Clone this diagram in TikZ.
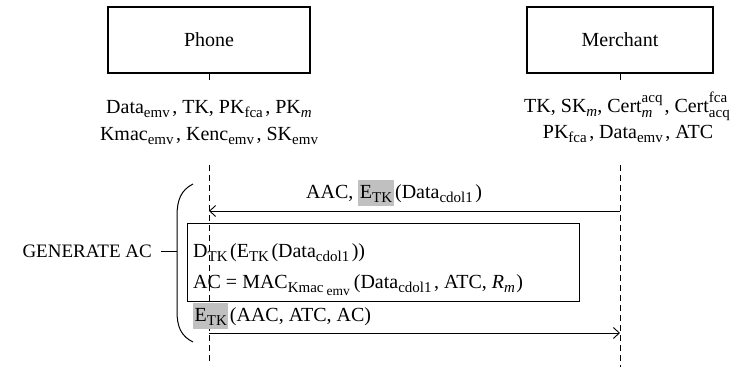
\documentclass[tikz,border=0pt]{standalone}
\usepackage{fontspec}
\setmainfont{Liberation Serif}
\usetikzlibrary{arrows.meta}
\definecolor{hlgray}{RGB}{192,192,192}
% index helpers: lowered index, index followed by a small gap, italic index,
% a superscript/subscript pair, and the gray highlight
\newcommand\idxfont{\fontsize{15}{15}\selectfont}
\newcommand\subx[1]{\raisebox{-4.5pt}{\idxfont #1}}
\newcommand\subk[1]{\subx{#1}\kern2.5pt}
\newcommand\subi[1]{\subx{\itshape #1}}
\newcommand\stk[2]{{\idxfont\setbox0\hbox{#1}\setbox2\hbox{#2}%
  \dimen0=\ifdim\wd0>\wd2 \wd0\else\wd2\fi
  \rlap{\raisebox{10pt}{\box0}}\rlap{\raisebox{-5pt}{\box2}}\kern\dimen0}\kern2pt}
\newcommand\hlbox[1]{{\setlength\fboxsep{1.5pt}\colorbox{hlgray}{\rule[-6.5pt]{0pt}{23pt}#1}}}
\begin{document}
\begin{tikzpicture}[x=1pt,y=-1pt,
  every node/.style={font=\fontsize{20}{24}\selectfont, inner sep=0pt},
  actor/.style={draw, line width=1.1pt, minimum height=66pt},
  lifeline/.style={dash pattern=on 6pt off 4pt, line width=0.9pt},
  msg/.style={line width=0.9pt, -{Straight Barb[length=6pt,width=11pt,line width=0.9pt]}},
  frame/.style={draw, line width=1.1pt},
  link/.style={line width=1pt}]
\useasboundingbox (0,0) rectangle (731,370);

% participants
\node[actor, minimum width=202pt] (phone) at (209,40) {Phone};
\node[actor, minimum width=186pt] (merchant) at (620,40) {Merchant};
\coordinate (ptick) at (209,80);
\coordinate (mtick) at (620,80);
\draw[link] (phone.south) -- (ptick);
\draw[link] (merchant.south) -- (mtick);

% stored data
\node[anchor=base] (pd1) at (209,113) {Data\subk{emv}, TK, PK\subk{fca}, PK\subi{m}};
\node[anchor=base] (pd2) at (209,140) {Kmac\subk{emv}, Kenc\subk{emv}, SK\subx{emv}};
\node[anchor=base] (md1) at (628,112) {TK, SK\subi{m}, Cert\stk{acq}{\itshape m}, Cert\stk{fca}{acq}};
\node[anchor=base] (md2) at (628,138) {PK\subk{fca}, Data\subk{emv}, ATC};

% lifelines
\coordinate (ptop) at (209,165);
\coordinate (pbot) at (209,363);
\coordinate (mtop) at (620,165);
\coordinate (mbot) at (620,367);
\draw[lifeline] (ptop) -- (pbot);
\draw[lifeline] (mtop) -- (mbot);

% first message
\coordinate (m1) at (620,211);
\coordinate (p1) at (209,211);
\draw[msg] (m1) -- (p1);
\node[anchor=base west] (lab1) at (306,198) {AAC, \hlbox{E\subx{TK}}\kern1.5pt(Data\subk{cdol1})};

% computation frame
\node[frame, anchor=north west, minimum width=392pt, minimum height=78pt] (calc) at (187,223) {};
\node[anchor=base west] (c1) at (193,257) {D\subk{TK}(E\subk{TK}(Data\subk{cdol1}))};
\node[anchor=base west] (c2) at (193,288) {AC = MAC\subx{Kmac\kern3pt\raisebox{-3pt}{\fontsize{13.5}{13.5}\selectfont emv}}\kern4pt(Data\subk{cdol1}, ATC, \textit{R}\subi{m}\kern1.5pt)};

% reply message
\coordinate (p2) at (209,333);
\coordinate (m2) at (620,333);
\draw[msg] (p2) -- (m2);
\node[anchor=base west] (lab2) at (193,321) {\hlbox{E\subx{TK}}\kern1.5pt(AAC, ATC, AC)};

% bracket grouping the phone's steps
\draw[link] (193,184) .. controls (181,190) and (177,200) .. (177,216) -- (177,311)
  .. controls (177,327) and (181,336) .. (193,342);
\coordinate (brk) at (177,251);
\node[anchor=base east, font=\fontsize{19}{23}\selectfont] (gen) at (152,257) {GENERATE AC};
\draw[link] (161,251) -- (brk);
\end{tikzpicture}
\end{document}
